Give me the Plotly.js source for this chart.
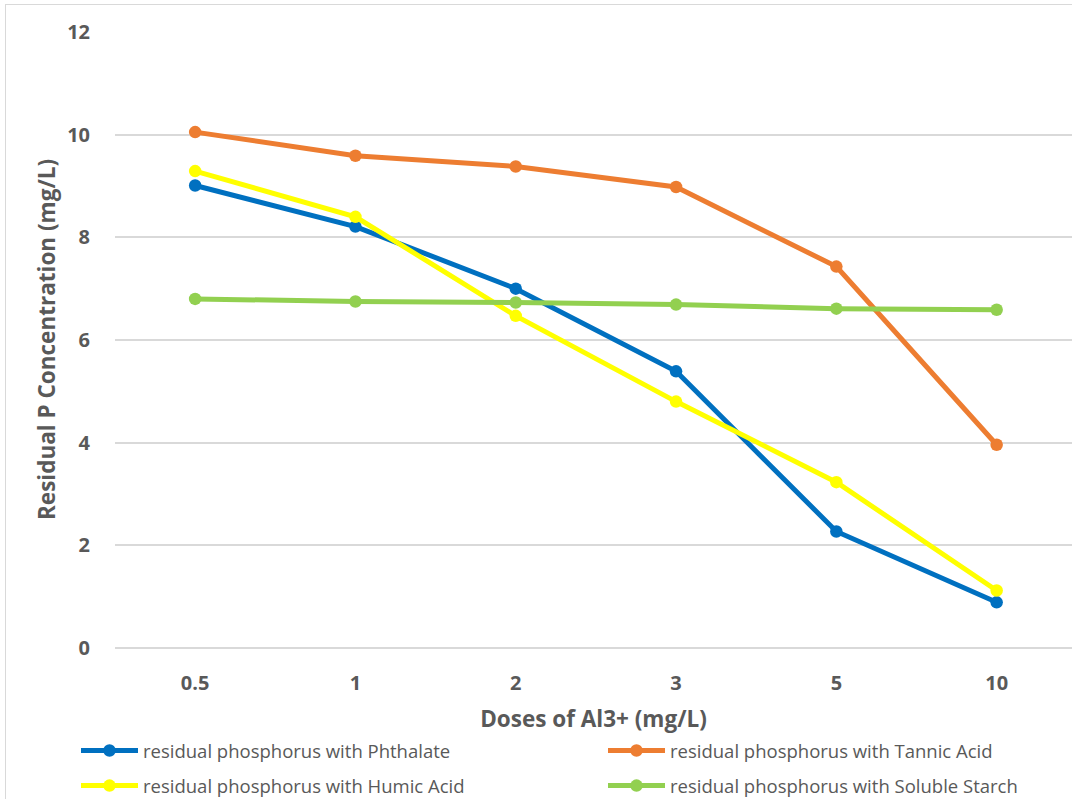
<!DOCTYPE html>
<html>
<head>
<meta charset="utf-8">
<script src="https://cdn.plot.ly/plotly-3.0.1.min.js"></script>
<style>
html,body{margin:0;padding:0;background:#fff;overflow:hidden;}
#frame{position:absolute;left:5px;top:4px;width:1080px;height:820px;border:1px solid #d9d9d9;box-sizing:border-box;pointer-events:none;}
#chart{position:absolute;left:0;top:0;width:1072px;height:799px;}
</style>
</head>
<body>
<div id="chart"></div>
<div id="frame"></div>
<script>
const doses = ["0.5", "1", "2", "3", "5", "10"];
const phthalate = [9.01, 8.21, 7.00, 5.39, 2.27, 0.89];
const tannicAcid = [10.05, 9.59, 9.38, 8.98, 7.43, 3.96];
const humicAcid = [9.29, 8.40, 6.47, 4.80, 3.23, 1.12];
const solubleStarch = [6.80, 6.75, 6.73, 6.69, 6.61, 6.59];
const yTicks = [0, 2, 4, 6, 8, 10, 12];

const seriesNames = [
  "residual phosphorus with Phthalate",
  "residual phosphorus with Tannic Acid",
  "residual phosphorus with Humic Acid",
  "residual phosphorus with Soluble Starch"
];
const xTitle = "Doses of Al3+ (mg/L)";
const yTitle = "Residual P Concentration (mg/L)";
const colors = ["#0070C0", "#ED7D31", "#FFFF00", "#92D050"];
const values = [phthalate, tannicAcid, humicAcid, solubleStarch];
const legends = ["legend", "legend2", "legend", "legend2"];

const traces = values.map((v, i) => ({
  type: "scatter",
  mode: "lines+markers",
  x: doses,
  y: v,
  name: seriesNames[i],
  legend: legends[i],
  legendgroup: "g" + i,
  line: {color: colors[i], width: 5},
  marker: {color: colors[i], size: 12.5},
  hoverinfo: "x+y+name"
}));

const gray = "#595959";
const font = "'Open Sans', sans-serif";

const legendCommon = {
  orientation: "v",
  xanchor: "left",
  yanchor: "top",
  xref: "container",
  yref: "container",
  bgcolor: "rgba(0,0,0,0)",
  font: {family: font, size: 18.5, color: gray},
  itemwidth: 57,
  tracegroupgap: 8,
  traceorder: "grouped"
};

const layout = {
  width: 1072,
  height: 799,
  margin: {l: 115, r: 0, t: 32, b: 150.5, autoexpand: false},
  paper_bgcolor: "#fff",
  plot_bgcolor: "#fff",
  font: {family: font, color: gray},
  showlegend: true,
  xaxis: {
    type: "category",
    categoryorder: "array",
    categoryarray: doses,
    range: [-0.5, 5.47],
    showgrid: false,
    zeroline: false,
    showline: false,
    ticks: "outside",
    ticklen: 17,
    tickcolor: "rgba(0,0,0,0)",
    tickfont: {family: font, size: 20, color: gray, weight: "bold"},
    title: {text: xTitle, font: {family: font, size: 22.5, color: gray, weight: "bold"}, standoff: 16},
    automargin: true,
    fixedrange: true
  },
  yaxis: {
    range: [0, 12],
    tickvals: yTicks,
    ticktext: yTicks.map(String),
    showgrid: true,
    gridcolor: "#d9d9d9",
    gridwidth: 1.5,
    zeroline: true,
    zerolinecolor: "#d9d9d9",
    zerolinewidth: 1.5,
    showline: false,
    ticks: "outside",
    ticklen: 20,
    tickcolor: "rgba(0,0,0,0)",
    tickfont: {family: font, size: 20, color: gray, weight: "bold"},
    title: {text: ""},
    automargin: false,
    fixedrange: true
  },
  annotations: [{
    text: yTitle,
    xref: "paper", yref: "paper",
    x: 0, y: 0.5,
    xshift: -69,
    xanchor: "center", yanchor: "middle",
    textangle: -90,
    showarrow: false,
    font: {family: font, size: 22.5, color: gray, weight: "bold"}
  }],
  legend: Object.assign({}, legendCommon, {x: 76 / 1072, y: 1 - 732 / 799}),
  legend2: Object.assign({}, legendCommon, {x: 603 / 1072, y: 1 - 732 / 799})
};

Plotly.newPlot("chart", traces, layout, {displayModeBar: false});
</script>
</body>
</html>
